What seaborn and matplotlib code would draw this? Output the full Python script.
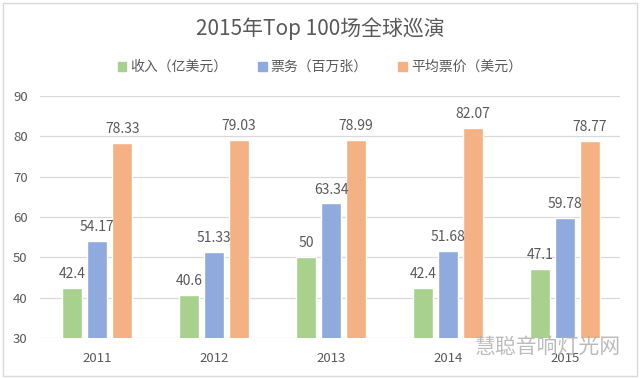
import pandas as pd
import matplotlib.pyplot as plt
import seaborn as sns
from matplotlib.patches import Rectangle

# Chart data
years = ['2011', '2012', '2013', '2014', '2015']
revenue = [42.4, 40.6, 50, 42.4, 47.1]          # 收入（亿美元）
tickets = [54.17, 51.33, 63.34, 51.68, 59.78]    # 票务（百万张）
avg_price = [78.33, 79.03, 78.99, 82.07, 78.77]  # 平均票价（美元）
series = ['收入（亿美元）', '票务（百万张）', '平均票价（美元）']
colors = ['#A9D18E', '#8FAADC', '#F4B183']
labels = [['42.4', '40.6', '50', '42.4', '47.1'],
          ['54.17', '51.33', '63.34', '51.68', '59.78'],
          ['78.33', '79.03', '78.99', '82.07', '78.77']]

df = pd.DataFrame({
    'year': years * 3,
    'series': [series[0]] * 5 + [series[1]] * 5 + [series[2]] * 5,
    'value': revenue + tickets + avg_price,
})

sns.set_style('white')
plt.rcParams['font.family'] = ['Noto Sans CJK SC', 'DejaVu Sans']
text_color = '#595959'

fig = plt.figure(figsize=(6.4, 3.79), dpi=100)
ax = fig.add_axes([0.0625, 0.108, 0.906, 0.639])

sns.barplot(data=df, x='year', y='value', hue='series', palette=colors,
            width=0.64, ax=ax, legend=False, saturation=1)

# narrow the bars a little so there is a gap between them
bar_w = 0.172
for p in ax.patches:
    c = p.get_x() + p.get_width() / 2
    p.set_width(bar_w)
    p.set_x(c - bar_w / 2)

# value labels
for cont, labs in zip(ax.containers, labels):
    ax.bar_label(cont, labels=labs, padding=5, fontsize=10, color=text_color)

ax.set_ylim(30, 90)
ax.set_yticks(range(30, 100, 10))
ax.set_xlim(-0.49, 4.47)
ax.grid(axis='y', color='#D9D9D9', linewidth=0.9)
ax.set_axisbelow(True)
for s in ax.spines.values():
    s.set_visible(False)
ax.tick_params(axis='both', length=0, labelsize=9.5, labelcolor=text_color)
ax.tick_params(axis='y', pad=9)
ax.tick_params(axis='x', pad=10)
ax.set_xlabel('')
ax.set_ylabel('')

# title and legend
fig.text(0.5, 0.925, '2015年Top 100场全球巡演', ha='center', va='center',
         fontsize=15, color=text_color)
handles = [Rectangle((0, 0), 1, 1, color=c) for c in colors]
fig.legend(handles, series, loc='center', bbox_to_anchor=(0.5, 0.823), ncol=3,
           frameon=False, fontsize=10, handlelength=0.6, handleheight=0.6,
           handletextpad=0.3, columnspacing=2.2, labelcolor=text_color)

# watermark
fig.text(0.742, 0.085, '慧聪音响灯光网', ha='left', va='center', fontsize=15,
         color='#B0B0B0', alpha=0.85)

# outer border
fig.patches.append(Rectangle((0.005, 0.008), 0.99, 0.984, transform=fig.transFigure,
                             fill=False, edgecolor='#D9D9D9', linewidth=1))

fig.savefig('out.png', dpi=100)
